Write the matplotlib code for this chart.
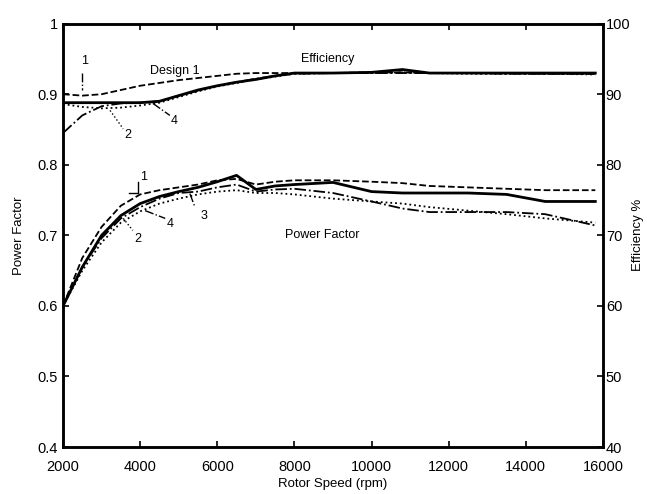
import matplotlib
matplotlib.use("Agg")
import matplotlib.pyplot as plt

# rotor speed samples (rpm)
speed = [2000, 2500, 3000, 3500, 4000, 4500, 5000, 5500, 6000, 6500, 7000,
         7500, 8000, 9000, 10000, 10800, 11500, 12500, 13500, 14500, 15800]

# efficiency (%) per design
eff_1 = [90.0, 89.8, 90.0, 90.6, 91.2, 91.6, 92.0, 92.3, 92.6, 92.9, 93.0,
         93.0, 93.0, 93.0, 93.1, 93.1, 93.0, 93.0, 93.0, 92.9, 92.9]
eff_2 = [88.6, 88.2, 88.0, 88.1, 88.4, 88.8, 89.6, 90.4, 91.1, 91.6, 92.1,
         92.5, 92.9, 93.0, 93.0, 93.1, 93.0, 92.9, 92.9, 92.9, 92.8]
eff_3 = [84.5, 87.0, 88.3, 88.7, 88.8, 89.0, 89.8, 90.5, 91.2, 91.7, 92.2,
         92.6, 92.9, 93.0, 93.0, 93.0, 93.0, 93.0, 92.9, 92.9, 92.9]
eff_4 = [88.8, 88.8, 88.8, 88.8, 88.8, 89.0, 89.8, 90.6, 91.2, 91.7, 92.1,
         92.6, 93.0, 93.0, 93.1, 93.5, 93.0, 93.0, 93.0, 93.0, 93.0]

# power factor per design
pf_1 = [0.600, 0.668, 0.712, 0.742, 0.758, 0.764, 0.768, 0.772, 0.778, 0.780,
        0.772, 0.776, 0.778, 0.778, 0.776, 0.774, 0.770, 0.768, 0.766, 0.764, 0.764]
pf_2 = [0.600, 0.650, 0.690, 0.718, 0.734, 0.745, 0.752, 0.758, 0.762, 0.764,
        0.760, 0.760, 0.758, 0.752, 0.748, 0.745, 0.740, 0.735, 0.730, 0.724, 0.718]
pf_3 = [0.600, 0.655, 0.696, 0.724, 0.740, 0.752, 0.760, 0.762, 0.768, 0.772,
        0.762, 0.765, 0.766, 0.760, 0.748, 0.738, 0.733, 0.733, 0.733, 0.730, 0.714]
pf_4 = [0.600, 0.655, 0.700, 0.728, 0.745, 0.755, 0.762, 0.768, 0.776, 0.785,
        0.765, 0.770, 0.772, 0.775, 0.762, 0.760, 0.760, 0.760, 0.758, 0.748, 0.748]

styles = ["--", ":", "-.", "-"]
widths = [1.3, 1.3, 1.3, 2.0]

plt.rcParams["font.family"] = ["Liberation Sans", "DejaVu Sans"]
plt.rcParams["font.size"] = 10.5

fig = plt.figure(figsize=(6.47, 4.94), dpi=100)
ax = fig.add_axes([0.0974, 0.0951, 0.8346, 0.857])
ax2 = ax.twinx()

for pf, ls, lw in zip([pf_1, pf_2, pf_3, pf_4], styles, widths):
    ax.plot(speed, pf, color="black", linestyle=ls, linewidth=lw)
for eff, ls, lw in zip([eff_1, eff_2, eff_3, eff_4], styles, widths):
    ax2.plot(speed, eff, color="black", linestyle=ls, linewidth=lw)

ax.set_xlim(2000, 16000)
ax.set_ylim(0.4, 1.0)
ax2.set_ylim(40, 100)
ax.set_xticks(range(2000, 16001, 2000))
ax.set_yticks([0.4, 0.5, 0.6, 0.7, 0.8, 0.9, 1.0])
ax.set_yticklabels(["0.4", "0.5", "0.6", "0.7", "0.8", "0.9", "1"])
ax2.set_yticks(range(40, 101, 10))

for a in (ax, ax2):
    for sp in a.spines.values():
        sp.set_linewidth(1.8)
ax.tick_params(direction="in", length=4, width=1.2, top=True)
ax.tick_params(axis="x", pad=9)
ax2.tick_params(direction="in", length=4, width=1.2, pad=2)

ax.set_xlabel("Rotor Speed (rpm)", fontsize=9.5, labelpad=3)
ax.set_ylabel("Power Factor", fontsize=9.5, labelpad=9)
ax2.set_ylabel("Efficiency %", fontsize=9.5, labelpad=1)

# curve group names
ax.text(8850, 0.950, "Efficiency", ha="center", va="center", fontsize=9)
ax.text(8720, 0.700, "Power Factor", ha="center", va="center", fontsize=9)
ax.text(4250, 0.933, "Design 1", ha="left", va="center", fontsize=9)

# design number callouts with leaders
ax.text(2550, 0.947, "1", ha="center", va="center", fontsize=9)
ax.plot([2490, 2490], [0.930, 0.906], color="black", lw=1.0, ls="-.")
ax.text(3680, 0.842, "2", ha="center", va="center", fontsize=9)
ax.plot([3220, 3560], [0.877, 0.851], color="black", lw=1.0, ls=":")
ax.text(4870, 0.862, "4", ha="center", va="center", fontsize=9)
ax.plot([4330, 4770], [0.887, 0.870], color="black", lw=1.0, ls="-.")

ax.text(4080, 0.782, "1", ha="center", va="center", fontsize=9)
ax.plot([3950, 3950, 3700], [0.776, 0.760, 0.760], color="black", lw=1.0)
ax.text(3930, 0.695, "2", ha="center", va="center", fontsize=9)
ax.plot([3560, 3810], [0.724, 0.707], color="black", lw=1.0, ls=":")
ax.text(4790, 0.716, "4", ha="center", va="center", fontsize=9)
ax.plot([4130, 4650], [0.735, 0.724], color="black", lw=1.0, ls="-.")
ax.text(5650, 0.727, "3", ha="center", va="center", fontsize=9)
ax.plot([5290, 5420], [0.759, 0.740], color="black", lw=1.0, ls="-.")

fig.savefig("out.png", dpi=100)
